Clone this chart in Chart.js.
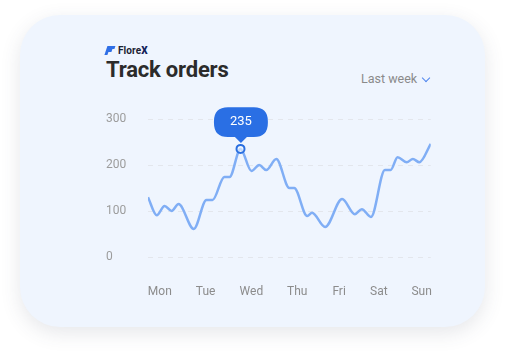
<!DOCTYPE html>
<html>
<head>
<meta charset="utf-8">
<script src="https://cdn.jsdelivr.net/npm/chart.js@4"></script>
<style>
  html, body { margin: 0; padding: 0; background: #fff; width: 505px; height: 351px; overflow: hidden; }
  body { font-family: Roboto, "Noto Sans", sans-serif; position: relative; }
  .card {
    position: absolute; left: 20px; top: 15px; width: 465px; height: 312px;
    border-radius: 40px; background: #eff5fe;
    box-shadow: 0 6px 20px rgba(60, 70, 90, 0.13);
  }
  .logo { position: absolute; left: 106px; top: 45px; height: 10px; display: flex; align-items: center; }
  .logo .mark { width: 9px; height: 8px; position: relative; margin-right: 3px; }
  .logo .mark i { position: absolute; height: 2.5px; background: #2f6fe6; transform: skewX(-20deg); }
  .logo .name { font-size: 10px; font-weight: 700; color: #1c2233; letter-spacing: 0.1px; }
  .logo .name b { color: #13205a; }
  .title { position: absolute; left: 106px; top: 57px; font-size: 22px; font-weight: 700; color: #2b2b2b; letter-spacing: -0.2px; }
  .range { position: absolute; left: 361px; top: 71px; font-size: 12.5px; color: #8a8a8a; }
  .chev { position: absolute; left: 423px; top: 75px; width: 5px; height: 5px;
    border-right: 1.3px solid #4f86ee; border-bottom: 1.3px solid #4f86ee; transform: rotate(45deg); }
  .wrap { position: absolute; left: 106px; top: 100px; width: 326px; height: 200px; }
</style>
</head>
<body>
<div class="card"></div>
<div class="logo">
  <div class="mark"><i style="left:1px;top:0;width:8px"></i><i style="left:0;top:3px;width:6px"></i><i style="left:-1px;top:5.5px;width:3px"></i></div>
  <div class="name">Flore<b>X</b></div>
</div>
<div class="title">Track orders</div>
<div class="range">Last week</div>
<div class="chev"></div>
<div class="wrap"><canvas id="ordersChart"></canvas></div>
<script>
var dayNames = ['Mon', 'Tue', 'Wed', 'Thu', 'Fri', 'Sat', 'Sun'];
var dayTicks = [0, 1.05, 2.1, 3.15, 4.11, 5.02, 6.0];
var yTicks = [0, 100, 200, 300];

var sampleDays = [-0.27, -0.07, 0.11, 0.27, 0.43, 0.78, 1.07, 1.21, 1.48, 1.60, 1.85,
    2.10, 2.28, 2.44, 2.67, 2.97, 3.08, 3.38, 3.49, 3.79, 4.18, 4.47, 4.63, 4.84,
    5.16, 5.29, 5.45, 5.66, 5.80, 5.95, 6.21];
var orders = [130, 91, 111, 100, 115, 61, 124, 124, 174, 174, 235,
    187, 200, 189, 213, 150, 150, 89, 96, 65, 126, 93, 104, 87,
    189, 189, 217, 206, 213, 206, 246];

var peakIndex = orders.indexOf(235);

var ordersChart = new Chart(document.getElementById('ordersChart'), {
    type: 'line',
    data: {
        datasets: [{
            label: 'Orders',
            data: sampleDays.map(function(d, i) { return { x: d, y: orders[i] }; }),
            borderColor: '#80aef5',
            borderWidth: 2.5,
            cubicInterpolationMode: 'monotone',
            pointRadius: function(ctx) { return ctx.dataIndex === peakIndex ? 4 : 0; },
            pointHoverRadius: function(ctx) { return ctx.dataIndex === peakIndex ? 4 : 0; },
            pointBorderColor: '#2a6fe0',
            pointHoverBorderColor: '#2a6fe0',
            pointBackgroundColor: 'rgba(239,245,254,0.6)',
            pointHoverBackgroundColor: 'rgba(239,245,254,0.6)',
            pointBorderWidth: 2,
            pointHoverBorderWidth: 2
        }]
    },
    options: {
        responsive: true,
        maintainAspectRatio: false,
        animation: false,
        events: [],
        layout: { padding: { top: 19, right: 0, left: 0, bottom: 0 } },
        plugins: {
            legend: { display: false },
            tooltip: {
                enabled: true,
                backgroundColor: '#2a6fe4',
                bodyColor: '#ffffff',
                bodyFont: { family: 'Roboto', size: 13 },
                displayColors: false,
                xAlign: 'center',
                yAlign: 'bottom',
                caretSize: 6,
                caretPadding: 6,
                cornerRadius: 14,
                padding: { x: 16, y: 7 },
                callbacks: {
                    title: function() { return ''; },
                    label: function(ctx) { return String(ctx.parsed.y); }
                }
            }
        },
        scales: {
            x: {
                type: 'linear',
                min: sampleDays[0],
                max: sampleDays[sampleDays.length - 1],
                afterBuildTicks: function(axis) {
                    axis.ticks = dayTicks.map(function(v) { return { value: v }; });
                },
                afterFit: function(axis) {
                    axis.height = 43;
                    axis.paddingLeft = 0;
                    axis.paddingRight = 0;
                },
                grid: { display: false, drawTicks: false },
                border: { display: false },
                ticks: {
                    padding: 28,
                    autoSkip: false,
                    maxRotation: 0,
                    color: '#8c8c8c',
                    font: { family: 'Roboto', size: 12 },
                    callback: function(value) {
                        var i = dayTicks.indexOf(value);
                        return i >= 0 ? dayNames[i] : '';
                    }
                }
            },
            y: {
                min: 0,
                max: 300,
                afterBuildTicks: function(axis) {
                    axis.ticks = yTicks.map(function(v) { return { value: v }; });
                },
                afterFit: function(axis) {
                    axis.width = 42;
                    axis.paddingTop = 0;
                    axis.paddingBottom = 0;
                },
                grid: { color: '#e3e6ec', lineWidth: 1, drawTicks: false },
                border: { display: false, dash: [5, 5] },
                ticks: {
                    crossAlign: 'far',
                    padding: 8,
                    color: '#9c9c9c',
                    font: { family: 'Roboto', size: 12 }
                }
            }
        }
    }
});

ordersChart.tooltip.setActiveElements([{ datasetIndex: 0, index: peakIndex }], { x: 0, y: 0 });
ordersChart.setActiveElements([{ datasetIndex: 0, index: peakIndex }]);
ordersChart.update();
</script>
</body>
</html>
